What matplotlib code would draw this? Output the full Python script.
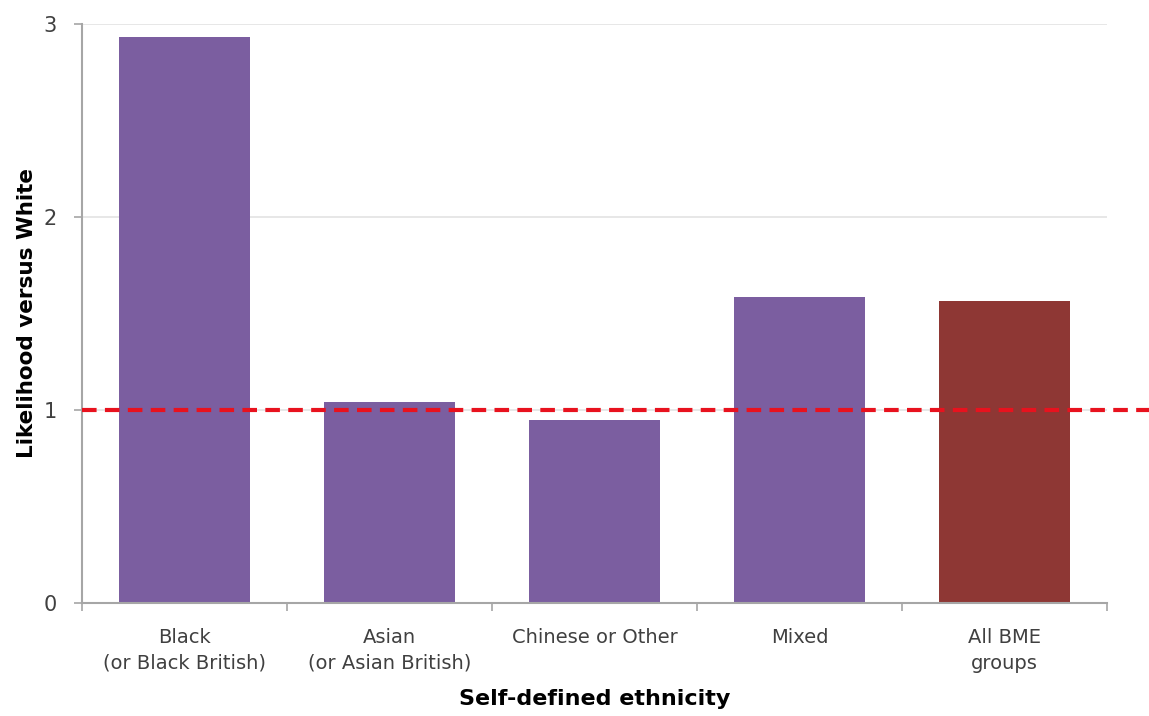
import matplotlib
matplotlib.use("Agg")
from matplotlib import pyplot as plt

categories = ["Black\n(or Black British)", "Asian\n(or Asian British)", "Chinese or Other", "Mixed", "All BME\ngroups"]
likelihood = [2.93, 1.04, 0.95, 1.585, 1.565]
bar_colors = ["#7B5EA0", "#7B5EA0", "#7B5EA0", "#7B5EA0", "#8E3734"]
y_ticks = [0, 1, 2, 3]
reference_level = 1

fig = plt.figure(figsize=(11.49, 7.16), dpi=100)
ax = fig.add_axes([0.0714, 0.158, 0.892, 0.8085])

x = range(len(categories))
ax.bar(x, likelihood, width=0.64, color=bar_colors, zorder=2)

ax.set_xlim(-0.5, len(categories) - 0.5)
ax.set_ylim(0, 3)
ax.set_yticks(y_ticks)
ax.tick_params(axis="y", length=6, width=1.2, color="#A6A6A6", labelsize=15, labelcolor="#404040", pad=12)

ax.set_xticks(list(x))
ax.set_xticklabels(categories, fontsize=14, color="#404040", linespacing=1.45)
ax.tick_params(axis="x", length=0, pad=18)
# separators between categories
ax.set_xticks([i - 0.5 for i in range(len(categories) + 1)], minor=True)
ax.tick_params(axis="x", which="minor", length=6, width=1.2, color="#A6A6A6")

ax.grid(axis="y", color="#E3E3E3", linewidth=1.2, zorder=0)
for side in ["top", "right"]:
    ax.spines[side].set_visible(False)
for side in ["left", "bottom"]:
    ax.spines[side].set_color("#A6A6A6")
    ax.spines[side].set_linewidth(1.5)

# dashed reference line, runs past the plot area to the figure edge
ax.plot([0, 1.05], [reference_level, reference_level], transform=ax.get_yaxis_transform(),
        color="#E8121E", linewidth=3, dashes=(3.5, 2), clip_on=False, zorder=3)

ax.set_ylabel("Likelihood versus White", fontsize=15.5, fontweight="bold", labelpad=5)
ax.set_xlabel("Self-defined ethnicity", fontsize=16, fontweight="bold", labelpad=12)

fig.savefig("out.png", dpi=100)
